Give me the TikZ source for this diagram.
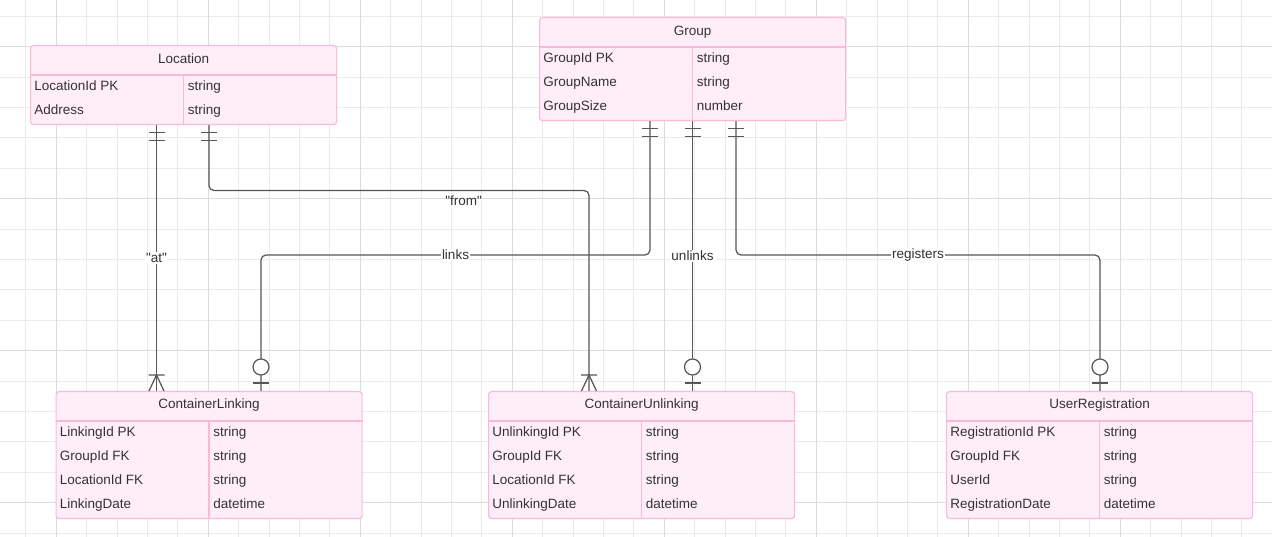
\documentclass[tikz,border=0pt]{standalone}
\usepackage{fontspec}
\setmainfont{Liberation Sans}
\usepackage{tikz}
\usetikzlibrary{positioning}
\newlength\pxl
\setlength\pxl{0.025cm}
\definecolor{erfill}{HTML}{FFEEF8}
\definecolor{erline}{HTML}{FBB9DA}
\definecolor{edgec}{HTML}{575757}
\definecolor{txtc}{HTML}{333333}
\definecolor{gridminor}{HTML}{EBEBEB}
\definecolor{gridmajor}{HTML}{DCDCDC}
\tikzset{
    ertable/.style={draw=erline,fill=erfill,rounded corners=3\pxl,line width=1.2\pxl,
        inner sep=0pt,anchor=north west,minimum width=306\pxl},
    erline/.style={draw=erline,line width=1.2\pxl},
    field/.style={anchor=base west,inner sep=0pt,text=txtc,font=\fontsize{9.6}{11}\selectfont},
    title/.style={anchor=base,inner sep=0pt,text=txtc,font=\fontsize{9.6}{11}\selectfont},
    rel/.style={color=edgec,line width=1.25\pxl},
    lbl/.style={fill=white,inner sep=1\pxl,text=txtc,font=\fontsize{9.6}{11}\selectfont},
    pics/exone/.style={code={\draw (-8,7.5) -- (8,7.5) (-8,15.5) -- (8,15.5);}},
    pics/zeroone/.style={code={\draw (-8,-8) -- (8,-8); \draw[fill=white] (0,-24) circle[radius=8\pxl];}},
    pics/onemany/.style={code={\draw (-8,-16) -- (8,-16) (-7.5,0) -- (0,-16) -- (7.5,0);}}
}

\begin{document}
\begin{tikzpicture}[x=0.025cm,y=-0.025cm]
    \useasboundingbox[fill=white] (0,0) rectangle (1272,537);

    % grid
    \foreach \gx in {0,...,41}
        \draw[gridminor,line width=1\pxl] ({25.9+30.4*\gx},0) -- ++(0,537);
    \foreach \gy in {0,...,17}
        \draw[gridminor,line width=1\pxl] (0,{16.3+30.4*\gy}) -- ++(1272,0);
    \foreach \gx in {0,...,7}
        \draw[gridmajor,line width=1\pxl] ({56.3+152*\gx},0) -- ++(0,537);
    \foreach \gy in {0,...,3}
        \draw[gridmajor,line width=1\pxl] (0,{46.7+152*\gy}) -- ++(1272,0);

    % tables
    \node[ertable,minimum height=79\pxl] (loc) at (30,45) {};
    \node[ertable,minimum height=103\pxl] (grp) at (539,17) {};
    \node[ertable,minimum height=127\pxl] (cl) at (55.5,391) {};
    \node[ertable,minimum height=127\pxl] (cu) at (488,391) {};
    \node[ertable,minimum height=127\pxl] (ur) at (946,391) {};

    \foreach \n in {loc,grp,cl,cu,ur} {
        \draw[erline] ([shift={(0,30)}]\n.north west) -- ([shift={(0,30)}]\n.north east);
        \draw[erline] ([shift={(153.5,30)}]\n.north west) -- ([shift={(153.5,0)}]\n.south west);
    }

    \node[title] at ([shift={(0,18.8)}]loc.north) {Location};
    \node[title] at ([shift={(0,18.8)}]grp.north) {Group};
    \node[title] at ([shift={(0,17.8)}]cl.north) {ContainerLinking};
    \node[title] at ([shift={(0,17.8)}]cu.north) {ContainerUnlinking};
    \node[title] at ([shift={(0,17.8)}]ur.north) {UserRegistration};

    \foreach \f/\t [count=\i] in {LocationId PK/string,Address/string} {
        \node[field] at ([shift={(4,21.8+24*\i)}]loc.north west) {\f};
        \node[field] at ([shift={(157.5,21.8+24*\i)}]loc.north west) {\t};
    }
    \foreach \f/\t [count=\i] in {GroupId PK/string,GroupName/string,GroupSize/number} {
        \node[field] at ([shift={(4,21.8+24*\i)}]grp.north west) {\f};
        \node[field] at ([shift={(157.5,21.8+24*\i)}]grp.north west) {\t};
    }
    \foreach \f/\t [count=\i] in {LinkingId PK/string,GroupId FK/string,LocationId FK/string,LinkingDate/datetime} {
        \node[field] at ([shift={(4,21.8+24*\i)}]cl.north west) {\f};
        \node[field] at ([shift={(157.5,21.8+24*\i)}]cl.north west) {\t};
    }
    \foreach \f/\t [count=\i] in {UnlinkingId PK/string,GroupId FK/string,LocationId FK/string,UnlinkingDate/datetime} {
        \node[field] at ([shift={(4,21.8+24*\i)}]cu.north west) {\f};
        \node[field] at ([shift={(157.5,21.8+24*\i)}]cu.north west) {\t};
    }
    \foreach \f/\t [count=\i] in {RegistrationId PK/string,GroupId FK/string,UserId/string,RegistrationDate/datetime} {
        \node[field] at ([shift={(4,21.8+24*\i)}]ur.north west) {\f};
        \node[field] at ([shift={(157.5,21.8+24*\i)}]ur.north west) {\t};
    }

    % relations
    \draw[rel] (loc.south -| 156.5,0) -- node[lbl] {\textquotedbl at\textquotedbl} (cl.north -| 156.5,0);
    \draw[rel,rounded corners=5\pxl] (loc.south -| 209,0) -- (209,190.5)
        -- node[lbl,fill=none,pos=0.67,yshift=-10.5\pxl] {\textquotedbl from\textquotedbl} (589,190.5) -- (cu.north -| 589,0);
    \draw[rel,rounded corners=5\pxl] (grp.south -| 650,0) -- (650,255)
        -- node[lbl] {links} (261,255) -- (cl.north -| 261,0);
    \draw[rel] (grp.south -| 692.5,0) -- node[lbl] {unlinks} (cu.north -| 692.5,0);
    \draw[rel,rounded corners=5\pxl] (grp.south -| 736,0) -- (736,255)
        -- node[lbl] {registers} (1100,255) -- (ur.north -| 1100,0);

    \pic[rel] at (loc.south -| 156.5,0) {exone};
    \pic[rel] at (loc.south -| 209,0) {exone};
    \pic[rel] at (grp.south -| 650,0) {exone};
    \pic[rel] at (grp.south -| 692.5,0) {exone};
    \pic[rel] at (grp.south -| 736,0) {exone};
    \pic[rel] at (cl.north -| 156.5,0) {onemany};
    \pic[rel] at (cu.north -| 589,0) {onemany};
    \pic[rel] at (cl.north -| 261,0) {zeroone};
    \pic[rel] at (cu.north -| 692.5,0) {zeroone};
    \pic[rel] at (ur.north -| 1100,0) {zeroone};
\end{tikzpicture}
\end{document}
